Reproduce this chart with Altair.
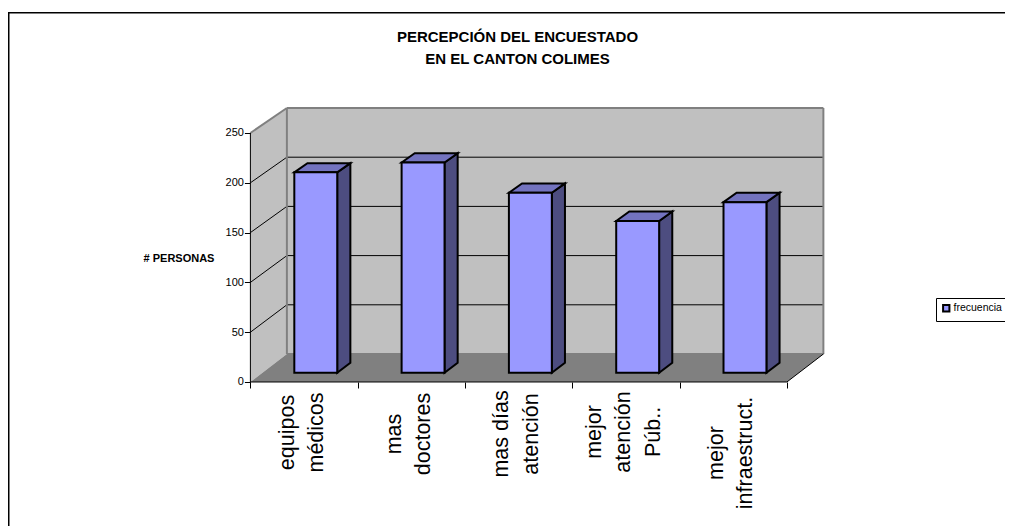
import altair as alt
import pandas as pd

categories = ["equipos\nmédicos", "mas\ndoctores", "mas días\natención", "mejor\natención\nPúb..", "mejor\ninfraestruct."]
values = [202, 212, 181.5, 153, 172]
label_centers = [-50.7, -52.2, -52.2, -50.2, -71.3]
y_ticks = [0, 50, 100, 150, 200, 250]
grid_values = [50, 100, 150, 200]
series_name = "frecuencia"
title_lines = ["PERCEPCIÓN DEL ENCUESTADO", "EN EL CANTON COLIMES"]
y_title = "# PERSONAS"

FONT = "Liberation Sans"
N = len(categories)
VMAX = 250
D1, D2 = 0.33, 0.69      # depth of the bars inside the 3-D box
BAR_L, BAR_W = 0.297, 0.40
LINE_H = 29.5
PX_PER_CAT = 107.3


def px(c, d=0.0):
    return c + 0.34 * d


def py(v, d=0.0):
    return v * (1 - 0.012 * d) + 28.1 * d


def h_para(key, c0, c1, v, d0, d1):
    """Parallelogram with horizontal edges, as area rows."""
    yf, yb = py(v, d0), py(v, d1)
    return [
        dict(k=key, x=px(c0, d0), y=yf, y2=yf),
        dict(k=key, x=px(c0, d1), y=yb, y2=yf),
        dict(k=key, x=px(c1, d0), y=yb, y2=yf),
        dict(k=key, x=px(c1, d1), y=yb, y2=yb),
    ]


def v_para(key, c, v0, v1, d0, d1):
    """Parallelogram with vertical edges, as area rows."""
    return [
        dict(k=key, x=px(c, d0), y=py(v1, d0), y2=py(v0, d0)),
        dict(k=key, x=px(c, d1), y=py(v1, d1), y2=py(v0, d1)),
    ]


def seg(c0, v0, d0, c1, v1, d1):
    return dict(x=px(c0, d0), y=py(v0, d0), x2=px(c1, d1), y2=py(v1, d1))


x_scale = alt.Scale(domain=[-2.2591, 7.0326], nice=False, zero=False)
y_scale = alt.Scale(domain=[-144.58, 375.5], nice=False, zero=False)

x_axis = alt.Axis(values=list(range(N + 1)), labels=False, domain=False, grid=False, ticks=True,
                  tickColor="black", tickSize=6, offset=-144, orient="bottom", title=None)
y_axis = alt.Axis(values=y_ticks, domain=False, grid=False, ticks=True, tickColor="black", tickSize=6,
                  labelColor="black", labelFont=FONT, labelFontSize=11, labelPadding=1,
                  labelOverlap=False, offset=-242.4, orient="left", title=None)


def X():
    return alt.X("x:Q", scale=x_scale, axis=x_axis)


def Y():
    return alt.Y("y:Q", scale=y_scale, axis=y_axis)


X2 = alt.X2("x2:Q")
Y2 = alt.Y2("y2:Q")


def area(rows, fill, **kw):
    return alt.Chart(pd.DataFrame(rows)).mark_area(fill=fill, **kw).encode(
        x=X(), y=Y(), y2=Y2, detail="k:N"
    )


def rules(rows, color, width):
    return alt.Chart(pd.DataFrame(rows)).mark_rule(color=color, strokeWidth=width).encode(
        x=X(), y=Y(), x2=X2, y2=Y2
    )


left_wall = area(v_para("w", 0, 0, VMAX, 0, 1), "#C0C0C0")
back_wall = area(
    [dict(k="b", x=px(0, 1), y=py(VMAX, 1), y2=py(0, 1)), dict(k="b", x=px(N, 1), y=py(VMAX, 1), y2=py(0, 1))],
    "#C0C0C0",
)
floor = area(h_para("f", 0, N, 0, 0, 1), "#808080")

grid_rows = []
for g in grid_values:
    grid_rows.append(seg(0, g, 1, N, g, 1))
    grid_rows.append(seg(0, g, 0, 0, g, 1))
grid = rules(grid_rows, "black", 1)

edges = rules(
    [
        seg(0, VMAX, 0, 0, VMAX, 1),
        seg(0, VMAX, 1, N, VMAX, 1),
        seg(0, 0, 1, 0, VMAX, 1),
        seg(N, 0, 1, N, VMAX, 1),
        seg(0, 0, 1, N, 0, 1),
    ],
    "#808080",
    2,
)

front_axes = rules(
    [seg(0, 0, 0, 0, VMAX, 0), seg(0, 0, 0, N, 0, 0), seg(N, 0, 0, N, 0, 1)], "black", 1
)

side_rows, top_rows, front_rows, label_rows = [], [], [], []
for i, (cat, v, lc) in enumerate(zip(categories, values, label_centers)):
    l, r = i + BAR_L, i + BAR_L + BAR_W
    side_rows += v_para(f"s{i}", r, 0, v, D1, D2)
    top_rows += h_para(f"t{i}", l, r, v, D1, D2)
    front_rows.append(dict(x=px(l, D1), x2=px(r, D1), y=py(0, D1), y2=py(v, D1), s=series_name))
    n_lines = cat.count("\n") + 1
    label_rows.append(dict(x=i + 0.485 - (n_lines - 1) * LINE_H / 2 / PX_PER_CAT, y=lc, t=cat))

stroke = dict(stroke="black", strokeWidth=2, strokeJoin="miter")
bar_side = area(side_rows, "#4D4D80", **stroke)
bar_top = area(top_rows, "#7373BF", **stroke)
bar_front = (
    alt.Chart(pd.DataFrame(front_rows))
    .mark_rect(**stroke)
    .encode(
        x=X(), x2=X2, y=Y(), y2=Y2,
        fill=alt.Fill(
            "s:N",
            scale=alt.Scale(domain=[series_name], range=["#9999FF"]),
            legend=alt.Legend(
                title=None, orient="none", legendX=928, legendY=290, strokeColor="black",
                fillColor="white", padding=5, symbolType="square", symbolSize=40,
                symbolStrokeColor="black", symbolStrokeWidth=2, labelFont=FONT,
                labelFontSize=10.5, labelColor="black", labelOffset=2,
            ),
        ),
    )
)

cat_labels = (
    alt.Chart(pd.DataFrame(label_rows))
    .mark_text(angle=270, align="center", baseline="middle", lineBreak="\n", font=FONT,
               fontSize=21.5, lineHeight=LINE_H, color="black")
    .encode(x=X(), y=Y(), text="t:N")
)


def title_text(text, y_pos):
    return (
        alt.Chart(pd.DataFrame({"t": [text]}))
        .mark_text(font=FONT, fontWeight="bold", fontSize=15, color="black", align="center", baseline="middle")
        .encode(x=alt.value(509.5), y=alt.value(y_pos), text="t:N")
    )


y_title_mark = (
    alt.Chart(pd.DataFrame({"t": [y_title]}))
    .mark_text(font=FONT, fontWeight="bold", fontSize=11, color="black", align="center", baseline="middle")
    .encode(x=alt.value(171), y=alt.value(251), text="t:N")
)

frame = (
    alt.Chart(pd.DataFrame({"a": [0]}))
    .mark_rule(color="black", strokeWidth=1.5)
)
frame_left = frame.encode(x=alt.value(0.75), y=alt.value(4), y2=alt.value(518))
frame_top = frame.encode(x=alt.value(0), x2=alt.value(997), y=alt.value(4.7))

chart = (
    alt.layer(
        frame_left, frame_top, left_wall, back_wall, floor, grid, edges, front_axes,
        bar_side, bar_top, bar_front, cat_labels,
        title_text(title_lines[0], 29.3), title_text(title_lines[1], 51.3), y_title_mark,
    )
    .resolve_scale(x="shared", y="shared")
    .properties(width=997, height=518, padding=0, autosize="none", background="white")
    .configure_view(stroke=None)
)

chart.save("out.html", embed_options={"renderer": "svg", "actions": False})
